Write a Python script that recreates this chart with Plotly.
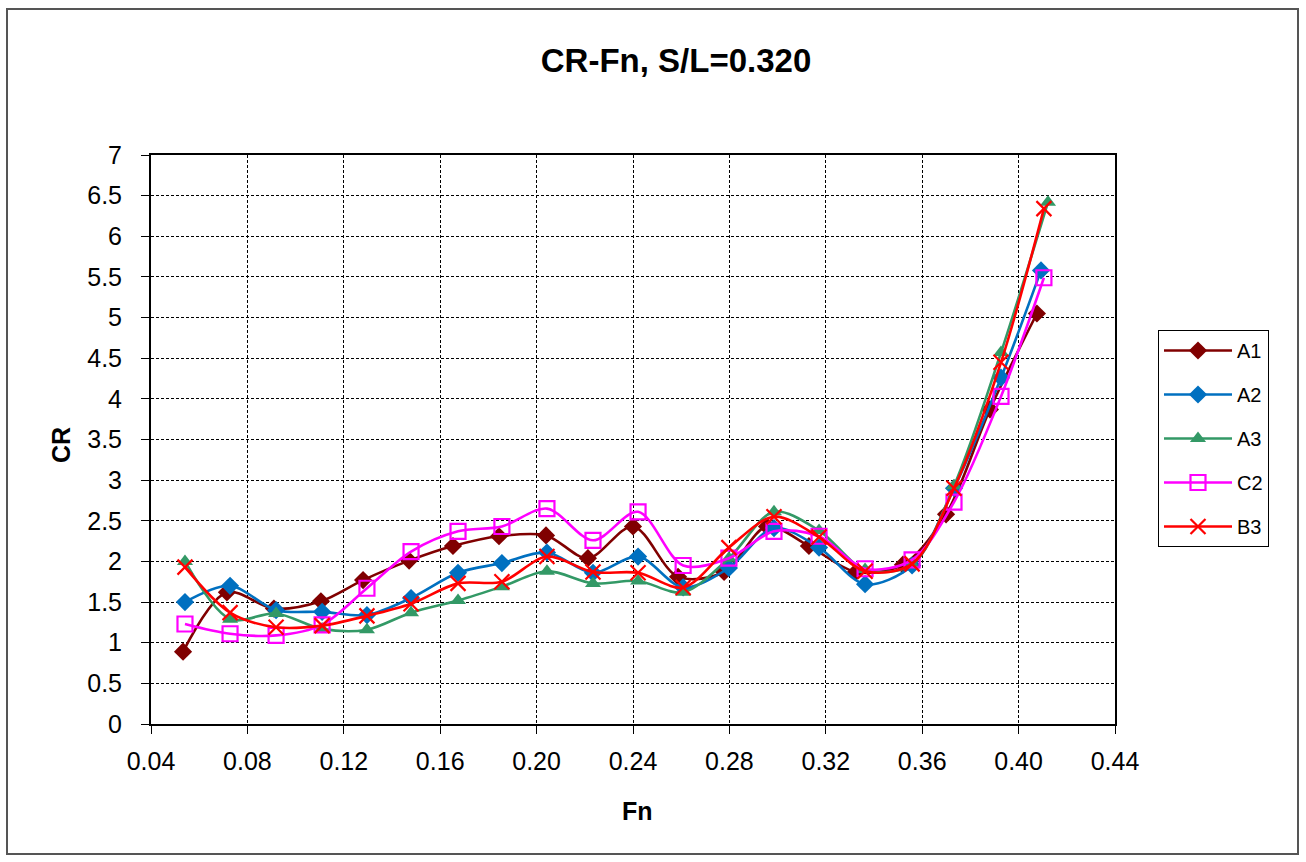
import plotly.graph_objects as go

# Data
series_names = ["A1", "A2", "A3", "C2", "B3"]

fn_A1 = [0.0533, 0.0715, 0.0910, 0.1105, 0.1280, 0.1471, 0.1653, 0.1844, 0.2039, 0.2213,
         0.2400, 0.2587, 0.2778, 0.2956, 0.3130, 0.3325, 0.3520, 0.3699, 0.3881, 0.4076]
fn_A2 = [0.0541, 0.0728, 0.0919, 0.1110, 0.1296, 0.1479, 0.1674, 0.1856, 0.2043, 0.2234,
         0.2421, 0.2608, 0.2798, 0.2985, 0.3172, 0.3363, 0.3558, 0.3732, 0.3927, 0.4093]
fn_A3 = [0.0541, 0.0728, 0.0919, 0.1110, 0.1296, 0.1479, 0.1674, 0.1856, 0.2043, 0.2234,
         0.2421, 0.2608, 0.2798, 0.2985, 0.3172, 0.3363, 0.3558, 0.3732, 0.3927, 0.4122]
fn_C2 = [0.0541, 0.0728, 0.0919, 0.1110, 0.1296, 0.1479, 0.1674, 0.1856, 0.2043, 0.2234,
         0.2421, 0.2608, 0.2798, 0.2985, 0.3172, 0.3363, 0.3558, 0.3732, 0.3927, 0.4105]
fn_B3 = [0.0541, 0.0728, 0.0919, 0.1110, 0.1296, 0.1479, 0.1674, 0.1856, 0.2043, 0.2234,
         0.2421, 0.2608, 0.2798, 0.2985, 0.3172, 0.3363, 0.3558, 0.3732, 0.3927, 0.4105]

cr_A1 = [0.89, 1.62, 1.42, 1.51, 1.77, 2.01, 2.19, 2.31, 2.32, 2.04,
         2.43, 1.81, 1.87, 2.43, 2.19, 1.87, 1.96, 2.58, 3.87, 5.05]
cr_A2 = [1.50, 1.70, 1.40, 1.38, 1.34, 1.55, 1.86, 1.98, 2.11, 1.86,
         2.06, 1.68, 1.92, 2.41, 2.17, 1.72, 1.95, 2.90, 4.26, 5.58]
cr_A3 = [2.00, 1.29, 1.36, 1.17, 1.16, 1.37, 1.52, 1.69, 1.88, 1.73,
         1.76, 1.62, 2.04, 2.61, 2.38, 1.90, 1.96, 2.93, 4.57, 6.42]
cr_C2 = [1.23, 1.11, 1.09, 1.22, 1.67, 2.12, 2.37, 2.43, 2.65, 2.26,
         2.61, 1.95, 2.04, 2.37, 2.31, 1.91, 2.02, 2.73, 4.03, 5.49]
cr_B3 = [1.93, 1.37, 1.19, 1.21, 1.33, 1.48, 1.73, 1.75, 2.06, 1.87,
         1.86, 1.68, 2.17, 2.55, 2.30, 1.88, 1.97, 2.90, 4.45, 6.34]

x_ticks = [0.04, 0.08, 0.12, 0.16, 0.20, 0.24, 0.28, 0.32, 0.36, 0.40, 0.44]
y_ticks = [0, 0.5, 1, 1.5, 2, 2.5, 3, 3.5, 4, 4.5, 5, 5.5, 6, 6.5, 7]

title_text = "CR-Fn, S/L=0.320"
x_title = "Fn"
y_title = "CR"

FONT = "Liberation Sans, Arial, sans-serif"

styles = {
    "A1": dict(color="#800000", symbol="diamond", size=14, open=False),
    "A2": dict(color="#0070C0", symbol="diamond", size=14, open=False),
    "A3": dict(color="#339966", symbol="triangle-up", size=14, open=False),
    "C2": dict(color="#FF00FF", symbol="square-open", size=15, open=True),
    "B3": dict(color="#FF0000", symbol="x-thin-open", size=15, open=True),
}

xs = {"A1": fn_A1, "A2": fn_A2, "A3": fn_A3, "C2": fn_C2, "B3": fn_B3}
ys = {"A1": cr_A1, "A2": cr_A2, "A3": cr_A3, "C2": cr_C2, "B3": cr_B3}

fig = go.Figure()
for name in series_names:
    st = styles[name]
    marker = dict(symbol=st["symbol"], size=st["size"], color=st["color"])
    if st["open"]:
        marker["line"] = dict(color=st["color"], width=2.2)
    else:
        marker["line"] = dict(width=0)
    fig.add_trace(go.Scatter(
        x=xs[name], y=ys[name], name=name, mode="lines+markers",
        line=dict(color=st["color"], width=2.6, shape="spline", smoothing=0.9),
        marker=marker, legendgroup=name,
    ))

W, H = 1306, 862
L, R, T, B = 151, 1115, 155, 724

fig.update_layout(
    width=W, height=H,
    margin=dict(l=L, r=W - R, t=T, b=H - B, autoexpand=False),
    paper_bgcolor="white", plot_bgcolor="white",
    font=dict(family=FONT, color="black"),
    title=dict(text=title_text, x=676 / W, xref="container", xanchor="center",
               y=1 - 60 / H, yref="container", yanchor="middle",
               font=dict(size=33, weight="bold", family=FONT, color="black")),
    showlegend=True,
    legend=dict(x=(1158 - L) / (R - L), xanchor="left", y=(B - 330) / (B - T), yanchor="top",
                bordercolor="black", borderwidth=1, bgcolor="white",
                font=dict(size=20, family=FONT), tracegroupgap=15,
                itemwidth=68),
)

fig.update_xaxes(
    range=[0.04, 0.44], tickvals=x_ticks, ticktext=[f"{v:.2f}" for v in x_ticks],
    showline=True, linecolor="black", linewidth=2, mirror=True,
    ticks="outside", ticklen=8, tickcolor="black", tickwidth=1,
    tickfont=dict(size=25, family=FONT), ticklabelstandoff=6,
    showgrid=True, gridcolor="black", gridwidth=1, griddash="3px,2px",
    zeroline=False,
)
fig.update_yaxes(
    range=[0, 7], tickvals=y_ticks, ticktext=[f"{v:g}" for v in y_ticks],
    showline=True, linecolor="black", linewidth=2, mirror=True,
    ticks="outside", ticklen=8, tickcolor="black", tickwidth=1,
    tickfont=dict(size=25, family=FONT), ticklabelstandoff=14,
    showgrid=True, gridcolor="black", gridwidth=1, griddash="3px,2px",
    zeroline=False,
)

# Axis titles
fig.add_annotation(text=f"<b>{x_title}</b>", xref="paper", yref="paper",
                   x=(637 - L) / (R - L), y=(B - 811) / (B - T),
                   showarrow=False, xanchor="center", yanchor="middle",
                   font=dict(size=25, family=FONT, color="black"))
fig.add_annotation(text=f"<b>{y_title}</b>", xref="paper", yref="paper",
                   x=(61 - L) / (R - L), y=(B - 445) / (B - T), textangle=-90,
                   showarrow=False, xanchor="center", yanchor="middle",
                   font=dict(size=25, family=FONT, color="black"))

# Outer chart border
fig.add_shape(type="rect", xref="paper", yref="paper",
              x0=(7 - L) / (R - L), x1=(1298 - L) / (R - L),
              y0=(B - 854) / (B - T), y1=(B - 9) / (B - T),
              line=dict(color="#555555", width=2), layer="below")

fig.write_html("out.html")
